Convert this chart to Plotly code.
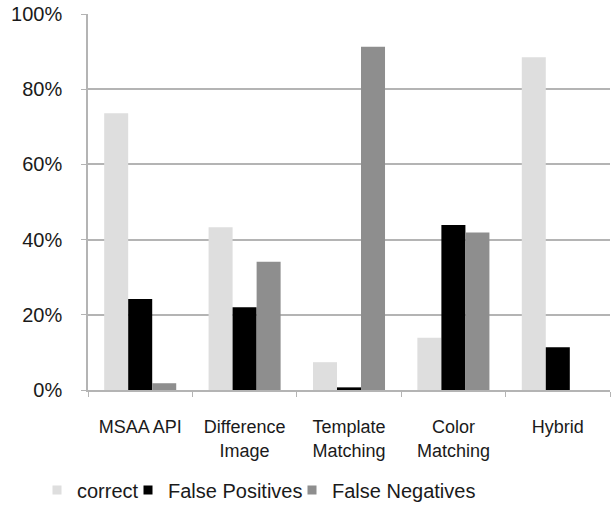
import plotly.graph_objects as go

categories = ["MSAA API", "Difference<br>Image", "Template<br>Matching", "Color<br>Matching", "Hybrid"]
correct = [0.736, 0.433, 0.074, 0.139, 0.885]
false_positives = [0.242, 0.220, 0.007, 0.439, 0.114]
false_negatives = [0.018, 0.341, 0.913, 0.419, 0.0]
series_names = ["correct", "False Positives", "False Negatives"]
series_colors = ["#dedede", "#000000", "#8e8e8e"]

W, H = 613, 508
legend_ids = ["legend", "legend2", "legend3"]
legend_x = [37, 128, 292]

fig = go.Figure()
for name, vals, col in zip(series_names, [correct, false_positives, false_negatives], series_colors):
    fig.add_trace(go.Bar(x=categories, y=vals, name=name, showlegend=False,
                         marker=dict(color=col, line=dict(width=0))))
# legend entries with small square swatches
for name, col, lid in zip(series_names, series_colors, legend_ids):
    fig.add_trace(go.Scatter(x=[None], y=[None], mode="markers", name=name, legend=lid,
                             marker=dict(symbol="square", size=9, color=col)))

legend_common = dict(orientation="h", xanchor="left", xref="container",
                     y=1 - 490 / H, yanchor="middle", yref="container",
                     font=dict(size=20), itemwidth=30, bgcolor="rgba(0,0,0,0)")
fig.update_layout(
    width=W, height=H,
    margin=dict(l=88, r=3, t=14, b=118),
    paper_bgcolor="white", plot_bgcolor="white",
    barmode="group", bargap=0.31, bargroupgap=0,
    font=dict(family="Liberation Sans, Arial, sans-serif", size=18, color="#1a1a1a"),
    legend=dict(x=legend_x[0] / W, **legend_common),
    legend2=dict(x=legend_x[1] / W, **legend_common),
    legend3=dict(x=legend_x[2] / W, **legend_common),
    showlegend=True,
)
fig.update_yaxes(range=[0, 1], tickformat=".0%", dtick=0.2, showgrid=True,
                 gridcolor="#b4b4b4", gridwidth=1.5, showline=True, linecolor="#b4b4b4",
                 linewidth=1.5, ticks="outside", ticklen=5, tickcolor="#b4b4b4",
                 ticklabelstandoff=15, zeroline=False, automargin=False,
                 ticklabeloverflow="allow", tickfont=dict(size=20))
fig.update_xaxes(showline=True, linecolor="#b4b4b4", linewidth=1.5, ticks="outside",
                 tickson="boundaries", ticklen=5, tickcolor="#b4b4b4",
                 ticklabelstandoff=20, showgrid=False, automargin=False,
                 tickfont=dict(size=18))

fig.write_html("out.html", config={"displayModeBar": False},
               post_script="document.body.style.margin='0px';")
